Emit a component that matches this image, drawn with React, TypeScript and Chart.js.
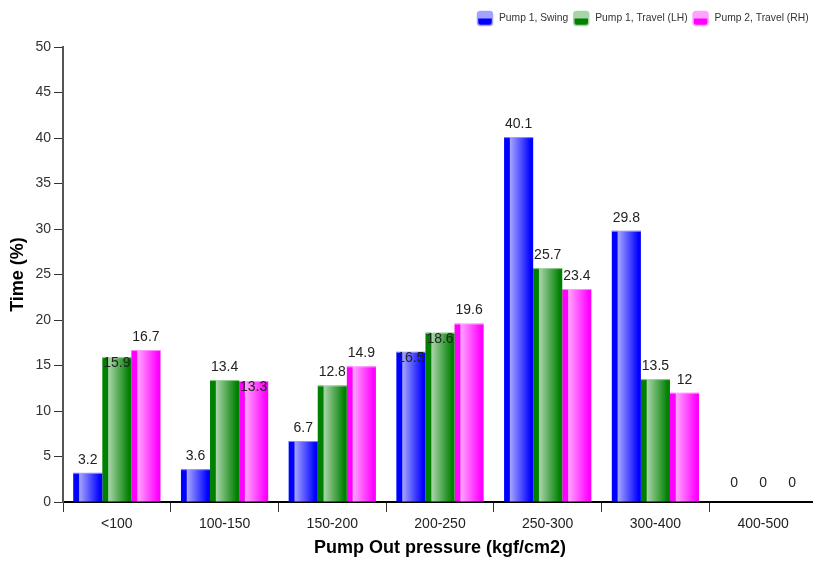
import React, { useEffect, useRef } from "react";
import { Chart, registerables } from "chart.js";

Chart.register(...registerables);

const categories = ["<100", "100-150", "150-200", "200-250", "250-300", "300-400", "400-500"];
const seriesNames = ["Pump 1, Swing", "Pump 1, Travel (LH)", "Pump 2, Travel (RH)"];
const swing = [3.2, 3.6, 6.7, 16.5, 40.1, 29.8, 0];
const travelLH = [15.9, 13.4, 12.8, 18.6, 25.7, 13.5, 0];
const travelRH = [16.7, 13.3, 14.9, 19.6, 23.4, 12, 0];
const yTicks = [0, 5, 10, 15, 20, 25, 30, 35, 40, 45, 50];
// labels drawn just inside the bar top (collision with neighbour label in the original)
const swingLabelInside = [false, false, false, true, false, false, false];
const travelLHLabelInside = [true, false, false, true, false, false, false];
const travelRHLabelInside = [false, true, false, false, false, false, false];

const baseColors = ["#0000ff", "#008000", "#ff00ff"];
const lightColors = ["#a3a3ff", "#a8d4a8", "#ffa3ff"];
const insideFlags = [swingLabelInside, travelLHLabelInside, travelRHLabelInside];
const FONT = "'Liberation Sans', Arial, sans-serif";

const gradientBars = {
  id: "gradientBars",
  beforeDatasetDraw(chart: any, args: any) {
    const ctx = chart.ctx;
    const meta = args.meta;
    const i = args.index;
    const c = baseColors[i];
    const l = lightColors[i];
    ctx.save();
    meta.data.forEach((el: any) => {
      const p = el.getProps(["x", "y", "base", "width"], true);
      const left = p.x - p.width / 2;
      const top = Math.min(p.y, p.base);
      const h = Math.abs(p.base - p.y);
      if (h <= 0) return;
      const g = ctx.createLinearGradient(left, 0, left + p.width, 0);
      g.addColorStop(0, c);
      g.addColorStop(0.18, c);
      g.addColorStop(0.22, l);
      g.addColorStop(0.92, c);
      g.addColorStop(1, c);
      ctx.fillStyle = g;
      ctx.fillRect(left, top, p.width, h);
      ctx.fillStyle = l;
      ctx.globalAlpha = 0.8;
      ctx.fillRect(left, top, p.width, 1);
      ctx.globalAlpha = 1;
    });
    ctx.restore();
    return false;
  },
};

const valueLabels = {
  id: "valueLabels",
  afterDatasetsDraw(chart: any) {
    const ctx = chart.ctx;
    ctx.save();
    ctx.font = `14px ${FONT}`;
    ctx.fillStyle = "#222";
    ctx.textAlign = "center";
    ctx.textBaseline = "middle";
    chart.data.datasets.forEach((ds: any, di: number) => {
      const meta = chart.getDatasetMeta(di);
      meta.data.forEach((el: any, idx: number) => {
        const v = ds.data[idx];
        const p = el.getProps(["x", "y"], true);
        let y;
        if (insideFlags[di][idx]) y = p.y + 6;
        else if (v === 0) y = p.y - 19;
        else y = p.y - 13;
        ctx.fillText(String(v), p.x, y);
      });
    });
    ctx.restore();
  },
};

const customLegend = {
  id: "customLegend",
  afterDraw(chart: any) {
    const ctx = chart.ctx;
    ctx.save();
    ctx.font = `10.3px ${FONT}`;
    ctx.textBaseline = "middle";
    ctx.textAlign = "left";
    let x = 477;
    const by = 11;
    const bw = 16;
    const bh = 15;
    seriesNames.forEach((name, i) => {
      const g = ctx.createLinearGradient(0, by, 0, by + bh);
      g.addColorStop(0, lightColors[i]);
      g.addColorStop(0.45, lightColors[i]);
      g.addColorStop(0.55, baseColors[i]);
      g.addColorStop(1, baseColors[i]);
      ctx.beginPath();
      ctx.roundRect(x + 0.5, by + 0.5, bw - 1, bh - 1, 3);
      ctx.fillStyle = g;
      ctx.fill();
      ctx.lineWidth = 1.5;
      ctx.strokeStyle = lightColors[i];
      ctx.stroke();
      ctx.fillStyle = "#333";
      ctx.fillText(name, x + bw + 6, by + bh / 2);
      x += bw + 6 + ctx.measureText(name).width + 5;
    });
    ctx.restore();
  },
};

export default function App() {
  const ref = useRef<HTMLCanvasElement>(null);
  useEffect(() => {
    if (!ref.current) return;
    const chart = new Chart(ref.current, {
      type: "bar",
      data: {
        labels: categories,
        datasets: [
          { label: seriesNames[0], data: swing, backgroundColor: baseColors[0] },
          { label: seriesNames[1], data: travelLH, backgroundColor: baseColors[1] },
          { label: seriesNames[2], data: travelRH, backgroundColor: baseColors[2] },
        ],
      },
      options: {
        animation: false,
        responsive: false,
        devicePixelRatio: 1,
        layout: { padding: { top: 47, right: 3, left: 0, bottom: 0 } },
        datasets: { bar: { categoryPercentage: 0.81, barPercentage: 1 } },
        plugins: { legend: { display: false }, tooltip: { enabled: false }, title: { display: false } },
        scales: {
          x: {
            type: "category",
            afterFit: (s: any) => { s.height = 61; },
            grid: { display: true, drawOnChartArea: false, drawTicks: true, tickLength: 10, color: "#333", lineWidth: 1, offset: true },
            border: { display: true, color: "#000", width: 2 },
            ticks: { font: { family: FONT, size: 14 }, color: "#222", padding: 4, maxRotation: 0, autoSkip: false },
            title: { display: true, text: "Pump Out pressure (kgf/cm2)", font: { family: FONT, size: 18, weight: "bold" }, color: "#000", padding: { top: 0, bottom: 4 } },
          },
          y: {
            min: 0,
            max: 50,
            afterFit: (s: any) => { s.width = 63; },
            afterBuildTicks: (s: any) => { s.ticks = yTicks.map((v) => ({ value: v })); },
            grid: { display: true, drawOnChartArea: false, drawTicks: true, tickLength: 9, color: "#333", lineWidth: 1 },
            border: { display: true, color: "#555", width: 2 },
            ticks: { font: { family: FONT, size: 14 }, color: "#333", padding: 3 },
            title: { display: true, text: "Time (%)", font: { family: FONT, size: 18, weight: "bold" }, color: "#000", padding: { top: 7, bottom: 0 } },
          },
        },
      },
      plugins: [gradientBars, valueLabels, customLegend],
    } as any);
    return () => chart.destroy();
  }, []);
  return (
    <div style={{ position: "absolute", left: 0, top: 0, width: 813, height: 563, overflow: "hidden", background: "#fff" }}>
      <canvas ref={ref} width={820} height={563} style={{ display: "block", width: 820, height: 563 }} />
    </div>
  );
}
